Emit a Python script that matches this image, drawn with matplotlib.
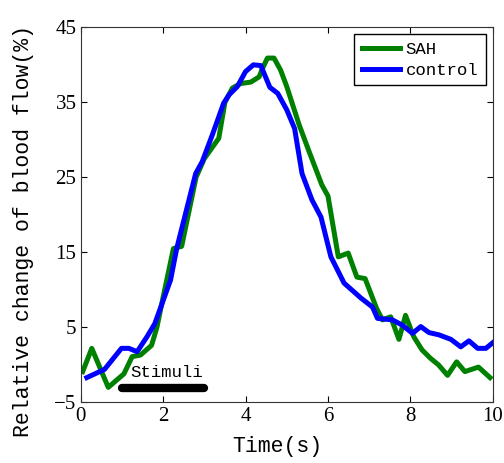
import matplotlib
matplotlib.use("Agg")
import matplotlib.pyplot as plt

# font close to SimSun latin (monospaced serif)
plt.rcParams["font.family"] = ["Liberation Mono", "DejaVu Sans Mono"]

# SAH curve (time in s, relative change in %)
sah_t = [0.05, 0.27, 0.67, 1.05, 1.25, 1.45, 1.72, 1.85, 2.0, 2.25, 2.45,
         2.8, 3.0, 3.35, 3.5, 3.68, 3.88, 4.13, 4.33, 4.41, 4.53, 4.69,
         4.85, 5.0, 5.3, 5.53, 5.85, 6.0, 6.25, 6.49, 6.7, 6.9, 7.18, 7.32,
         7.52, 7.72, 7.88, 8.08, 8.28, 8.48, 8.68, 8.9, 9.12, 9.32, 9.65, 9.93]
sah_v = [-0.9, 2.2, -3.0, -1.2, 1.1, 1.3, 2.6, 5.0, 9.0, 15.5, 15.8,
         25.0, 27.5, 30.2, 35.0, 36.9, 37.5, 37.7, 38.4, 39.5, 40.9, 40.9,
         39.3, 37.1, 32.0, 28.6, 24.0, 22.5, 14.4, 14.9, 11.7, 11.5, 7.5, 6.0,
         6.4, 3.4, 6.6, 3.75, 2.0, 0.9, 0.0, -1.4, 0.4, -0.9, -0.3, -1.7]

# control curve
ctl_t = [0.15, 0.58, 0.99, 1.17, 1.37, 1.61, 1.8, 2.18, 2.33, 2.79, 2.95,
         3.19, 3.47, 3.6, 3.8, 4.0, 4.19, 4.37, 4.59, 4.78, 5.0, 5.19, 5.37,
         5.61, 5.83, 6.07, 6.39, 6.8, 7.08, 7.2, 7.56, 7.8, 8.05, 8.25, 8.45,
         8.69, 8.98, 9.22, 9.42, 9.63, 9.83, 10.03]
ctl_v = [-1.7, -0.6, 2.2, 2.2, 1.75, 3.75, 5.5, 11.3, 15.5, 25.5, 27.1,
         30.6, 34.9, 36.0, 37.1, 39.1, 40.0, 39.9, 37.0, 36.2, 34.0, 31.5, 25.5,
         22.0, 19.7, 14.4, 10.9, 8.9, 7.7, 6.2, 6.0, 5.3, 4.2, 5.1, 4.3,
         4.0, 3.4, 2.4, 3.2, 2.2, 2.2, 3.1]

stim_t = [1.0, 3.0]
stim_v = [-3.1, -3.1]

xticks = [0, 2, 4, 6, 8, 10]
yticks = [-5, 5, 15, 25, 35, 45]

fig = plt.figure(figsize=(5.04, 4.63), dpi=100)
ax = fig.add_axes([0.160, 0.131, 0.818, 0.810])

ax.plot(sah_t, sah_v, color=(0, 0.5, 0), lw=3.6, label="SAH")
ax.plot(ctl_t, ctl_v, color=(0, 0, 1), lw=3.6, label="control")

# stimulus bar
ax.plot(stim_t, stim_v, color="black", lw=6, solid_capstyle="round")
ax.text(2.08, -1.0, "Stimuli", ha="center", va="center", fontsize=12.5)

ax.set_xlim(0, 10)
ax.set_ylim(-5, 45)
ax.set_xticks(xticks)
ax.set_yticks(yticks)
ax.tick_params(direction="in", top=True, right=True, length=4, pad=3)
for lab in ax.get_xticklabels() + ax.get_yticklabels():
  lab.set_fontfamily("Liberation Serif")
  lab.set_fontsize(15)
for s in ax.spines.values():
  s.set_color("#333333")

ax.set_xlabel("Time(s)", fontsize=15.5)
ax.set_ylabel("Relative change of blood flow(%)", fontsize=15.5)
ax.xaxis.set_label_coords(0.477, -0.09)
ax.yaxis.set_label_coords(-0.113, 0.457)

leg = ax.legend(loc="upper right", fontsize=12.5, fancybox=False, framealpha=1,
                edgecolor="black", handlelength=2.2, borderpad=0.45,
                labelspacing=0.3, handletextpad=0.3, borderaxespad=0.4)
leg.get_frame().set_linewidth(1.0)

fig.savefig("out.png", dpi=100)
